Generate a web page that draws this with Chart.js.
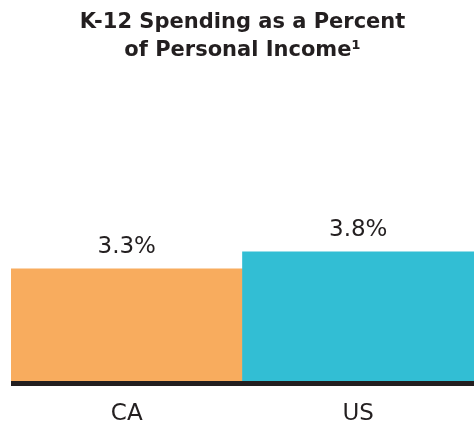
<!DOCTYPE html>
<html>
<head>
<meta charset="utf-8">
<script src="https://cdn.jsdelivr.net/npm/chart.js@4.4.1/dist/chart.umd.min.js"></script>
<style>
  html, body { margin: 0; padding: 0; background: #fff; }
  #wrap { width: 474px; height: 424px; }
</style>
</head>
<body>
<div id="wrap"><canvas id="myChart" width="474" height="424"></canvas></div>
<script>
const categories = ['CA', 'US'];
const spending = [3.3, 3.8];
const valueLabels = ['3.3%', '3.8%'];
const barColors = ['#f8ac5e', '#32bed4'];

// value labels above each bar + the heavy baseline under the bars
const barExtras = {
  id: 'barExtras',
  afterDatasetsDraw(chart) {
    const ctx = chart.ctx;
    const meta = chart.getDatasetMeta(0);
    const y0 = chart.scales.y.getPixelForValue(0);
    ctx.save();
    ctx.fillStyle = '#231f20';
    ctx.fillRect(chart.chartArea.left, y0, chart.chartArea.right - chart.chartArea.left, 5);
    ctx.font = '23px "DejaVu Sans"';
    ctx.textAlign = 'center';
    ctx.textBaseline = 'alphabetic';
    meta.data.forEach((bar, i) => {
      ctx.fillText(valueLabels[i], bar.x, bar.y - 16);
    });
    ctx.restore();
  }
};

const data = {
  labels: categories,
  datasets: [{
    data: spending,
    backgroundColor: barColors,
    borderWidth: 0,
    barPercentage: 1,
    categoryPercentage: 1
  }]
};

const config = {
  type: 'bar',
  data: data,
  options: {
    responsive: false,
    animation: false,
    layout: { padding: { left: 11, right: 0, top: 0, bottom: 0 } },
    plugins: {
      legend: { display: false },
      tooltip: { enabled: false },
      title: {
        display: true,
        text: ['K-12 Spending as a Percent', 'of Personal Income\u00b9'],
        color: '#231f20',
        font: { family: '"DejaVu Sans"', size: 21, weight: 'bold', lineHeight: 1.333 },
        padding: { top: 9, bottom: 146 }
      }
    },
    scales: {
      x: {
        grid: { display: false, drawTicks: false },
        border: { display: false },
        ticks: {
          color: '#231f20',
          font: { family: '"DejaVu Sans"', size: 23 },
          padding: 19
        },
        // fixed axis height so the baseline sits where the original has it
        afterFit(scale) { scale.height = 43; }
      },
      y: {
        display: false,
        min: 0,
        max: 5
      }
    }
  },
  plugins: [barExtras]
};

const myChart = new Chart(document.getElementById('myChart'), config);
</script>
</body>
</html>
